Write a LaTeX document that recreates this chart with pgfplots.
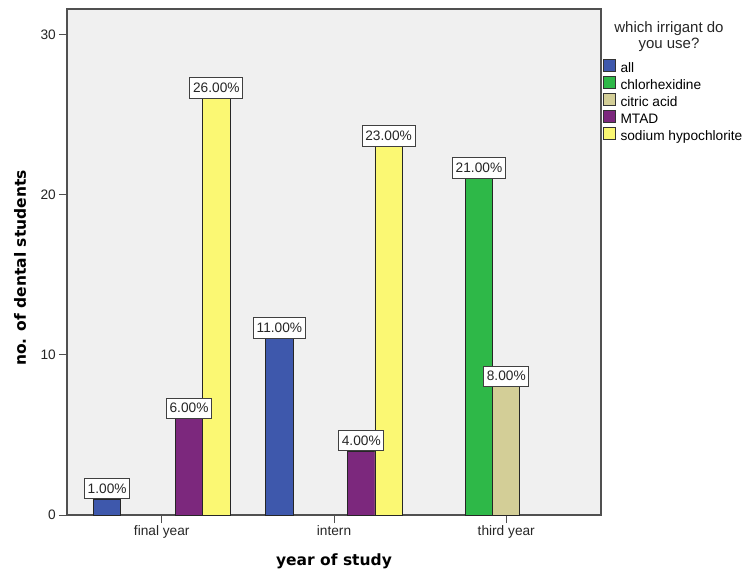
\documentclass[border=0pt]{standalone}
\usepackage{pgfplots}
\pgfplotsset{compat=1.18}
\usepackage{fontspec}
\setmainfont{Liberation Sans}
\newfontfamily\labfont{DejaVu Sans}
\definecolor{cAll}{HTML}{3E58AC}
\definecolor{cChl}{HTML}{2EB848}
\definecolor{cCit}{HTML}{D3CE97}
\definecolor{cMta}{HTML}{7C287D}
\definecolor{cSod}{HTML}{FBF873}
\definecolor{bgc}{HTML}{F0F0F0}
\definecolor{frame}{HTML}{505050}
\begin{document}
\begin{tikzpicture}
\begin{axis}[
  at={(0,0)}, anchor=south west,
  scale only axis, width=534pt, height=506pt,
  ybar, bar width=27.3pt,
  xmin=-0.55, xmax=2.55, ymin=0, ymax=31.6,
  axis background/.style={fill=bgc},
  axis line style={draw=frame, line width=1.2pt},
  xtick={0,1,2}, xticklabels={final year,intern,third year},
  ytick={0,10,20,30},
  tick align=outside, major tick length=8pt,
  tick style={draw=frame, line width=1pt},
  xtick pos=bottom, ytick pos=left,
  tick label style={font=\fontsize{13.7}{16}\selectfont, text=black!85},
  /pgf/number format/assume math mode=true,
  yticklabel style={inner sep=0pt, xshift=-3pt},
  xticklabel style={inner sep=0pt, yshift=-2pt},
  xlabel={year of study}, ylabel={no. of dental students},
  label style={font=\labfont\bfseries\fontsize{15.5}{18}\selectfont},
  xlabel style={at={(axis description cs:0.5,0)}, anchor=north, inner sep=0pt, yshift=-38.5pt},
  ylabel style={at={(axis description cs:0,0.5)}, anchor=center, inner sep=0pt, xshift=-6pt, yshift=47pt},
  legend image code/.code={\filldraw[#1, draw=black!80, line width=0.8pt] (0pt,-2pt) rectangle (12pt,10pt);},
  legend style={at={(axis description cs:1,0.901)}, anchor=north west, xshift=2pt,
    draw=none, fill=none, inner sep=0pt, outer sep=0pt, row sep=0pt,
    font=\fontsize{13.7}{16}\selectfont,
    nodes={inner sep=0pt, text height=10pt, text depth=3.2pt},
    /tikz/every odd column/.append style={column sep=4.7pt}},
  legend cell align=left,
  nodes near coords={\pgfmathprintnumber[fixed,fixed zerofill,precision=2,assume math mode=true]{\pgfplotspointmeta}\%},
  every node near coord/.append style={font=\fontsize{13.7}{16}\selectfont, text=black!85,
    fill=white, draw=black!75, line width=0.9pt, anchor=south, inner xsep=3.2pt, inner ysep=5pt,
    text height=10pt, text depth=0.5pt, yshift=0pt},
]
\addplot[fill=cAll, draw=black!85, line width=0.9pt, bar shift=-54.6pt] coordinates {(0,1) (1,11)};
\addlegendentry{all}
\addplot[fill=cChl, draw=black!85, line width=0.9pt, bar shift=-27.3pt] coordinates {(2,21)};
\addlegendentry{chlorhexidine}
\addplot[fill=cCit, draw=black!85, line width=0.9pt, bar shift=0pt] coordinates {(2,8)};
\addlegendentry{citric acid}
\addplot[fill=cMta, draw=black!85, line width=0.9pt, bar shift=27.3pt] coordinates {(0,6) (1,4)};
\addlegendentry{MTAD}
\addplot[fill=cSod, draw=black!85, line width=0.9pt, bar shift=54.6pt] coordinates {(0,26) (1,23)};
\addlegendentry{sodium hypochlorite}
\end{axis}
\node[align=center, anchor=north, inner sep=0pt, font=\fontsize{15}{16}\selectfont, text=black!85] at (602pt,494pt) {which irrigant do\\you use?};
\pgfresetboundingbox
\path[use as bounding box] (-67pt,-56pt) rectangle (679pt,515pt);
\end{tikzpicture}
\end{document}
